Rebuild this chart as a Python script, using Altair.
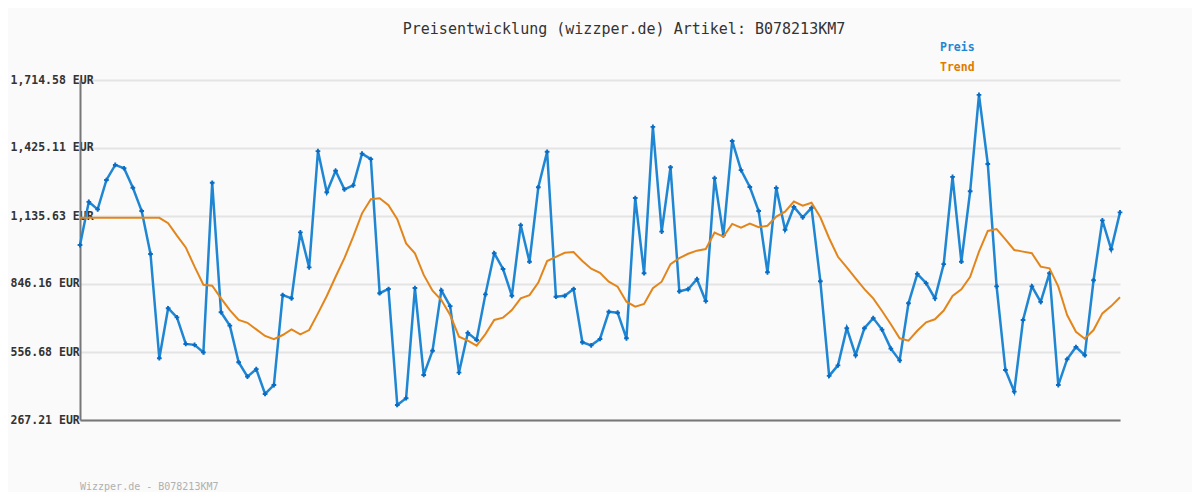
import altair as alt
import pandas as pd

preis = [1012, 1196, 1164, 1289, 1353, 1339, 1256, 1157, 974, 530,
         743, 704, 591, 587, 555, 1277, 726, 669, 513, 452,
         484, 378, 416, 799, 785, 1066, 917, 1412, 1237, 1328,
         1249, 1266, 1401, 1378, 807, 825, 331, 360, 829, 459,
         562, 819, 752, 469, 638, 608, 802, 977, 910, 796,
         1097, 941, 1258, 1409, 792, 796, 825, 598, 585, 612,
         728, 724, 615, 1212, 892, 1515, 1069, 1343, 815, 824,
         867, 773, 1297, 1053, 1455, 1331, 1259, 1157, 896, 1255,
         1077, 1174, 1130, 1170, 858, 455, 500, 658, 543, 658,
         701, 652, 571, 521, 764, 889, 850, 785, 931, 1302,
         941, 1241, 1651, 1357, 836, 480, 388, 693, 836, 770,
         892, 416, 526, 578, 543, 862, 1117, 994, 1151]

trend = [1128, 1128, 1128, 1128, 1128, 1128, 1128, 1128, 1128, 1128,
         1105, 1052, 1002, 920, 843, 839, 785, 735, 693, 681,
         653, 625, 611, 629, 653, 632, 650, 721, 795, 877,
         956, 1048, 1147, 1207, 1211, 1182, 1122, 1019, 977, 885,
         818, 778, 714, 622, 605, 584, 633, 693, 703, 735,
         785, 799, 852, 944, 962, 979, 982, 944, 911, 894,
         856, 835, 771, 750, 761, 828, 856, 931, 956, 975,
         988, 995, 1065, 1048, 1102, 1086, 1103, 1088, 1094, 1133,
         1154, 1197, 1180, 1192, 1130, 1041, 962, 917, 870, 824,
         785, 731, 675, 615, 605, 647, 683, 696, 733, 795,
         824, 877, 984, 1072, 1080, 1036, 991, 984, 977, 920,
         913, 835, 714, 643, 613, 650, 721, 752, 790]

y_ticks = [267.21, 556.68, 846.16, 1135.63, 1425.11, 1714.58]
title_text = ["Preisentwicklung (wizzper.de) Artikel: B078213KM7"]
footer_text = ["Wizzper.de - B078213KM7"]
legend_names = ["Preis", "Trend"]
colors = ["#1f86d3", "#e2861c"]

MONO = "DejaVu Sans Mono"

df = pd.DataFrame({"idx": list(range(len(preis))), "Preis": preis, "Trend": trend})

x_enc = alt.X("idx:Q",
              scale=alt.Scale(domain=[0, len(preis) - 1], nice=False, zero=False),
              axis=alt.Axis(labels=False, ticks=False, grid=False, title=None,
                            domainColor="#777777", domainWidth=2))
y_scale = alt.Scale(domain=[y_ticks[0], y_ticks[-1]], nice=False, zero=False)
y_axis = alt.Axis(values=y_ticks, title=None, ticks=False,
                  labelExpr="format(datum.value, ',.2f') + ' EUR'",
                  labelAlign="left", labelBaseline="middle", labelPadding=70,
                  labelFont=MONO, labelFontSize=11.5, labelFontWeight="bold",
                  labelColor="#333333", grid=True, gridColor="#e4e4e4", gridWidth=2,
                  domainColor="#777777", domainWidth=2)

base = alt.Chart(df).encode(x=x_enc)

preis_line = base.mark_line(color=colors[0], strokeWidth=2.5).encode(
    y=alt.Y("Preis:Q", scale=y_scale, axis=y_axis))
preis_pts = base.mark_point(shape="cross", filled=True, size=22, color="#0a6cc2", opacity=1).encode(
    y=alt.Y("Preis:Q", scale=y_scale))
trend_line = base.mark_line(color=colors[1], strokeWidth=2).encode(
    y=alt.Y("Trend:Q", scale=y_scale))

title_mark = alt.Chart(pd.DataFrame({"t": title_text})).mark_text(
    font=MONO, fontSize=15, color="#333333", align="center", baseline="middle"
).encode(x=alt.value(544), y=alt.value(-51), text="t:N")

footer_mark = alt.Chart(pd.DataFrame({"t": footer_text})).mark_text(
    font=MONO, fontSize=10, color="#b0b0b0", align="left", baseline="middle"
).encode(x=alt.value(0), y=alt.value(407), text="t:N")

leg1 = alt.Chart(pd.DataFrame({"t": [legend_names[0]]})).mark_text(
    font=MONO, fontSize=11.5, fontWeight="bold", color=colors[0], align="left", baseline="middle"
).encode(x=alt.value(860), y=alt.value(-32), text="t:N")
leg2 = alt.Chart(pd.DataFrame({"t": [legend_names[1]]})).mark_text(
    font=MONO, fontSize=11.5, fontWeight="bold", color="#e07b00", align="left", baseline="middle"
).encode(x=alt.value(860), y=alt.value(-12), text="t:N")

chart = alt.layer(preis_line, preis_pts, trend_line, title_mark, footer_mark, leg1, leg2).properties(
    width=1040, height=340,
    autosize=alt.AutoSizeParams(type="none"),
    padding={"left": 72, "top": 72, "right": 72, "bottom": 72},
    background="#fafafa",
).configure_view(stroke=None, fill="#fafafa")

chart.save("out.html", embed_options={"renderer": "svg", "actions": False})
